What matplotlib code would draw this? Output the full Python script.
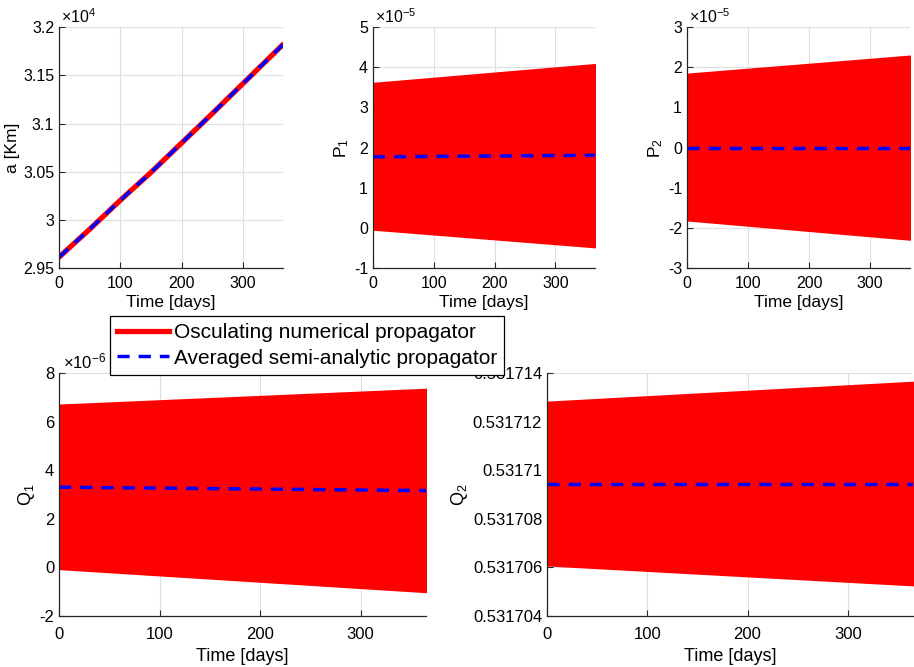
import matplotlib
matplotlib.use('Agg')
import matplotlib.pyplot as plt
from matplotlib.lines import Line2D
from matplotlib.ticker import FuncFormatter

plt.rcParams['font.family'] = ['Liberation Sans', 'DejaVu Sans']
plt.rcParams['mathtext.fontset'] = 'custom'
plt.rcParams['mathtext.rm'] = 'Liberation Sans'
plt.rcParams['mathtext.it'] = 'Liberation Sans'

# semi-major axis [km], osculating and averaged
t_a = [0, 50, 100, 150, 200, 250, 300, 365]
a_osc = [29614, 29904, 30205, 30494, 30800, 31105, 31416, 31820]
a_avg = [29614, 29904, 30205, 30494, 30800, 31105, 31416, 31820]

# envelope of the osculating oscillation at start and end of the year
t_env = [0, 365]
p1_upper = [3.60e-5, 4.07e-5]
p1_lower = [-0.03e-5, -0.47e-5]
p1_avg = [1.77e-5, 1.81e-5]

p2_upper = [1.83e-5, 2.28e-5]
p2_lower = [-1.80e-5, -2.28e-5]
p2_avg = [0.0, 0.0]

q1_upper = [6.68e-6, 7.33e-6]
q1_lower = [-0.05e-6, -1.00e-6]
q1_avg = [3.30e-6, 3.16e-6]

q2_upper = [0.5317128, 0.53171362]
q2_lower = [0.5317061, 0.53170528]
q2_avg = [0.53170945, 0.53170945]

RED = '#ff0000'
BLUE = '#0000ff'
AX_COL = '#262626'


def style_axes(ax, fs, lfs, xpad, lpad):
    ax.set_xlim(0, 365)
    ax.set_xticks([0, 100, 200, 300])
    ax.grid(True, color='#dfdfdf', linewidth=0.8)
    ax.set_axisbelow(True)
    for s in ['top', 'right']:
        ax.spines[s].set_visible(False)
    for s in ['left', 'bottom']:
        ax.spines[s].set_color(AX_COL)
        ax.spines[s].set_linewidth(0.9)
    ax.tick_params(direction='in', length=4, width=0.8, colors=AX_COL,
                   labelcolor='black', labelsize=fs)
    ax.tick_params(axis='x', pad=xpad)
    ax.set_xlabel('Time [days]', fontsize=lfs, labelpad=lpad)


def scaled(ax, power, fs):
    ax.yaxis.set_major_formatter(
        FuncFormatter(lambda v, p: f'{v / 10 ** power:g}'))
    ax.text(0.01, 1.005, r'$\times$10$^{%d}$' % power, transform=ax.transAxes,
            fontsize=fs, va='bottom', ha='left')


def dashed(ax, t, y):
    ax.plot(t, y, color=BLUE, lw=2.5, dashes=(3.5, 2.6))


fig = plt.figure(figsize=(9.14, 6.67), dpi=100)

ax1 = fig.add_axes([0.0646, 0.598, 0.245, 0.3613])
ax2 = fig.add_axes([0.408, 0.598, 0.243, 0.3613])
ax3 = fig.add_axes([0.7516, 0.598, 0.244, 0.3613])
ax4 = fig.add_axes([0.0646, 0.0765, 0.4015, 0.3643])
ax5 = fig.add_axes([0.5985, 0.0765, 0.4004, 0.3643])

top_fs, top_lfs = 11.5, 12.5
bot_fs, bot_lfs = 12, 13
top_pads = (6, 2.5)
bot_pads = (8, 4.5)

# a
ax1.plot(t_a, a_osc, color=RED, lw=3.8, solid_capstyle='round')
dashed(ax1, t_a, a_avg)
style_axes(ax1, top_fs, top_lfs, *top_pads)
ax1.set_ylim(29500, 32000)
ax1.set_yticks([29500, 30000, 30500, 31000, 31500, 32000])
scaled(ax1, 4, top_fs)
ax1.set_ylabel('a [Km]', fontsize=top_lfs, labelpad=2)

# P1
ax2.fill_between(t_env, p1_lower, p1_upper, color=RED, lw=1.5, edgecolor=RED)
dashed(ax2, t_env, p1_avg)
style_axes(ax2, top_fs, top_lfs, *top_pads)
ax2.set_ylim(-1e-5, 5e-5)
ax2.set_yticks([i * 1e-5 for i in range(-1, 6)])
scaled(ax2, -5, top_fs)
ax2.set_ylabel('P$_{1}$', fontsize=top_lfs, labelpad=2)

# P2
ax3.fill_between(t_env, p2_lower, p2_upper, color=RED, lw=1.5, edgecolor=RED)
dashed(ax3, t_env, p2_avg)
style_axes(ax3, top_fs, top_lfs, *top_pads)
ax3.set_ylim(-3e-5, 3e-5)
ax3.set_yticks([i * 1e-5 for i in range(-3, 4)])
scaled(ax3, -5, top_fs)
ax3.set_ylabel('P$_{2}$', fontsize=top_lfs, labelpad=2)

# Q1
ax4.fill_between(t_env, q1_lower, q1_upper, color=RED, lw=1.5, edgecolor=RED)
dashed(ax4, t_env, q1_avg)
style_axes(ax4, bot_fs, bot_lfs, *bot_pads)
ax4.set_ylim(-2e-6, 8e-6)
ax4.set_yticks([i * 1e-6 for i in range(-2, 9, 2)])
scaled(ax4, -6, bot_fs)
ax4.set_ylabel('Q$_{1}$', fontsize=bot_lfs, labelpad=2)

# Q2
ax5.fill_between(t_env, q2_lower, q2_upper, color=RED, lw=1.5, edgecolor=RED)
dashed(ax5, t_env, q2_avg)
style_axes(ax5, bot_fs, bot_lfs, *bot_pads)
ax5.set_ylim(0.531704, 0.531714)
ax5.set_yticks([0.531704 + i * 2e-6 for i in range(6)])
ax5.yaxis.set_major_formatter(
    FuncFormatter(lambda v, p: f'{v:.6f}'.rstrip('0')))
ax5.set_ylabel('Q$_{2}$', fontsize=bot_lfs, labelpad=2)

handles = [Line2D([], [], color=RED, lw=3.8),
           Line2D([], [], color=BLUE, lw=2.5, dashes=(3.5, 2.6))]
leg = fig.legend(handles, ['Osculating numerical propagator',
                           'Averaged semi-analytic propagator'],
                 loc='upper left', bbox_to_anchor=(0.1204, 0.5262),
                 borderaxespad=0, fontsize=15, handlelength=2.5,
                 handletextpad=0.2, borderpad=0.35, labelspacing=0.3,
                 fancybox=False, framealpha=1, edgecolor='black')
leg.get_frame().set_linewidth(0.9)

fig.savefig('out.png', dpi=100)
